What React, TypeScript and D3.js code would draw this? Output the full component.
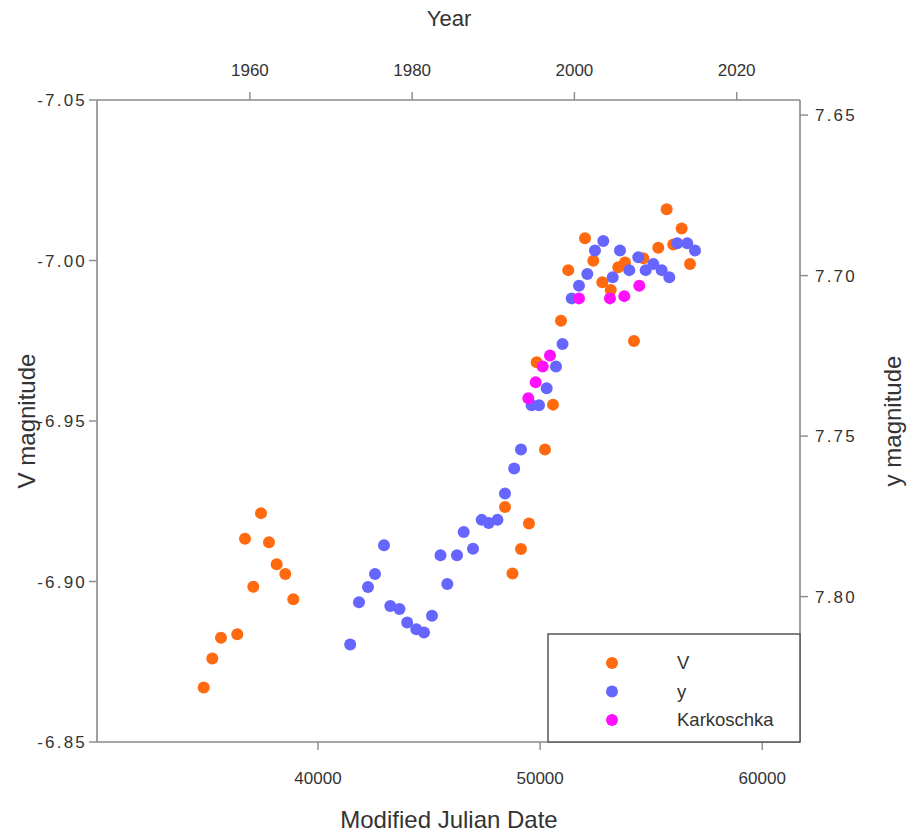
import React from "react";
import * as d3 from "d3";

// ---- Data ----
// V magnitude series (left axis): [MJD, V]
const vMJD = [34854, 35241, 35632, 36366, 36713, 37087, 37433, 37793, 38140, 38527, 38887,
  48418, 48756, 49138, 49499, 50219, 50579, 49845, 50939, 54226, 51268, 52020, 52394, 52799,
  53177, 53519, 53821, 54645, 55320, 55698, 55995, 56373, 56747];
const vMag = [-6.867, -6.876, -6.8825, -6.8836, -6.9133, -6.8984, -6.9213, -6.9122, -6.9054, -6.9023, -6.8945,
  -6.9232, -6.9025, -6.9101, -6.9181, -6.9411, -6.9551, -6.9683, -6.9812, -6.9749, -6.997, -7.0069, -6.9999, -6.9932,
  -6.9908, -6.9979, -6.9994, -7.0007, -7.004, -7.016, -7.005, -7.010, -6.9989];

// y magnitude series (right axis): [MJD, y]
const yMJD = [41449, 41845, 42250, 42566, 42971, 43254, 43668, 44015, 44425, 44772, 45132, 45515, 45821,
  46257, 46559, 46978, 47369, 47684, 48080, 48418, 48832, 49138, 49620, 49949, 50295, 50714, 51007,
  51421, 51750, 52124, 52470, 52844, 53267, 53595, 54014, 54419, 54752, 55095, 55473, 55815, 56175, 56625, 56972];
const yMag = [7.8149, 7.8018, 7.797, 7.793, 7.784, 7.8029, 7.8039, 7.8081, 7.8102, 7.8112, 7.806, 7.7871, 7.7961,
  7.7871, 7.7799, 7.7851, 7.7761, 7.7771, 7.7761, 7.7679, 7.7601, 7.7542, 7.7404, 7.7404, 7.7351, 7.7283, 7.7213,
  7.7071, 7.7032, 7.6995, 7.6922, 7.6892, 7.7005, 7.6922, 7.6983, 7.6943, 7.6983, 7.6964, 7.6983, 7.7005, 7.6899, 7.6899, 7.6922];

// Karkoschka series (right axis): [MJD, y]
const kMJD = [49467, 49800, 50116, 50444, 51750, 53145, 53789, 54464];
const kMag = [7.7382, 7.7332, 7.7283, 7.7249, 7.7071, 7.7071, 7.7064, 7.7032];

const mjdTicks = [40000, 50000, 60000];
const yearTicks = [1960, 1980, 2000, 2020];
const vTicks = [-7.05, -7.0, -6.95, -6.9, -6.85];
const yTicks = [7.65, 7.7, 7.75, 7.8];

const legendLabels = ["V", "y", "Karkoschka"];
const colors = ["#ff6a10", "#6666ff", "#ff10ff"];

export default function App() {
  const W = 911, H = 833;
  const L = 97, R = 800, T = 100, B = 742;

  const x = d3.scaleLinear().domain([30050, 61700]).range([L, R]);
  const mjdToYear = (m: number) => 2000 + (m - 51544) / 365.25;
  const xYear = d3.scaleLinear().domain([mjdToYear(30050), mjdToYear(61700)]).range([L, R]);
  const yV = d3.scaleLinear().domain([-7.05, -6.85]).range([T, B]);
  const yY = d3.scaleLinear().domain([7.6453, 7.8453]).range([T, B]);

  const axisColor = "#8a8a8a";
  const textColor = "#333";
  const font = "Liberation Sans, Arial, sans-serif";
  const tickFs = 17;
  const r = 6;

  const series = [
    { xs: vMJD, ys: vMag, scale: yV, color: colors[0] },
    { xs: yMJD, ys: yMag, scale: yY, color: colors[1] },
    { xs: kMJD, ys: kMag, scale: yY, color: colors[2] },
  ];

  const fmtV = (v: number) => d3.format(".2f")(v).replace("\u2212", "-");

  return (
    <svg width={W} height={H} style={{ position: "absolute", left: 0, top: 0, background: "#fff" }} fontFamily={font}>
      {/* frame / axis lines */}
      <line x1={L} x2={R} y1={T} y2={T} stroke={axisColor} strokeWidth={1.6} />
      <line x1={L} x2={R} y1={B} y2={B} stroke={axisColor} strokeWidth={1.6} />
      <line x1={L} x2={L} y1={T} y2={B} stroke={axisColor} strokeWidth={1.6} />
      <line x1={R} x2={R} y1={T} y2={B} stroke={axisColor} strokeWidth={1.6} />

      {/* bottom axis */}
      {mjdTicks.map((t) => (
        <g key={"b" + t}>
          <line x1={x(t)} x2={x(t)} y1={B} y2={B + 8} stroke={axisColor} strokeWidth={1.4} />
          <text x={x(t)} y={B + 42} textAnchor="middle" fontSize={tickFs} fill={textColor}>{t}</text>
        </g>
      ))}
      {/* top axis */}
      {yearTicks.map((t) => (
        <g key={"t" + t}>
          <line x1={xYear(t)} x2={xYear(t)} y1={T} y2={T - 8} stroke={axisColor} strokeWidth={1.4} />
          <text x={xYear(t)} y={T - 24} textAnchor="middle" fontSize={tickFs} fill={textColor}>{t}</text>
        </g>
      ))}
      {/* left axis */}
      {vTicks.map((t) => (
        <g key={"l" + t}>
          <line x1={L} x2={L - 8} y1={yV(t)} y2={yV(t)} stroke={axisColor} strokeWidth={1.4} />
          <text x={L - 10} y={yV(t) + 6} textAnchor="end" fontSize={tickFs} letterSpacing={2.2} fill={textColor}>{fmtV(t)}</text>
        </g>
      ))}
      {/* right axis */}
      {yTicks.map((t) => (
        <g key={"r" + t}>
          <line x1={R} x2={R + 8} y1={yY(t)} y2={yY(t)} stroke={axisColor} strokeWidth={1.4} />
          <text x={R + 15} y={yY(t) + 6} textAnchor="start" fontSize={tickFs} letterSpacing={2.2} fill={textColor}>{fmtV(t)}</text>
        </g>
      ))}

      {/* axis titles */}
      <text x={449} y={26} textAnchor="middle" fontSize={22} fill={textColor}>Year</text>
      <text x={449} y={828} textAnchor="middle" fontSize={24} fill={textColor}>Modified Julian Date</text>
      <text transform={`translate(35,${421}) rotate(-90)`} textAnchor="middle" fontSize={24} fill={textColor}>V magnitude</text>
      <text transform={`translate(901,${421}) rotate(-90)`} textAnchor="middle" fontSize={24} fill={textColor}>y magnitude</text>

      {/* points */}
      {series.map((s, si) => (
        <g key={"s" + si}>
          {s.xs.map((m, i) => (
            <circle key={i} cx={x(m)} cy={s.scale(s.ys[i])} r={r} fill={s.color} />
          ))}
        </g>
      ))}

      {/* legend */}
      <rect x={548} y={634} width={252} height={108} fill="#fff" stroke="#555" strokeWidth={1.5} />
      {legendLabels.map((lab, i) => (
        <g key={"lg" + i}>
          <circle cx={612} cy={663 + i * 28.5} r={6} fill={colors[i]} />
          <text x={677} y={663 + i * 28.5 + 6} fontSize={18.5} fill={textColor}>{lab}</text>
        </g>
      ))}
    </svg>
  );
}
